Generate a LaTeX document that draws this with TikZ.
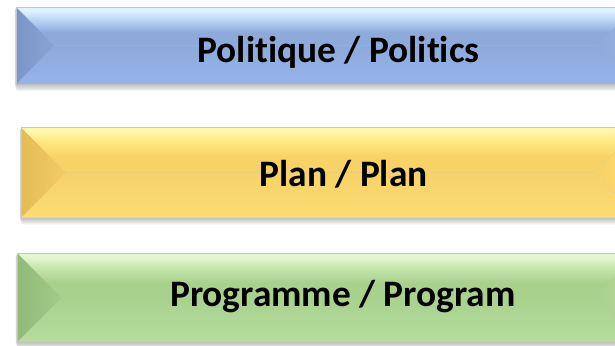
\documentclass[tikz,border=0pt]{standalone}
\usepackage{fontspec}
\setmainfont{Carlito}[Ligatures={NoCommon}]
\definecolor{bmain}{RGB}{142,170,219}
\definecolor{blight}{RGB}{190,216,248}
\definecolor{bwhite}{RGB}{222,243,255}
\definecolor{brim}{RGB}{188,198,214}
\definecolor{bdark}{RGB}{122,150,198}
\definecolor{bldark}{RGB}{137,165,214}
\definecolor{brlight}{RGB}{152,180,228}
\definecolor{bbot}{RGB}{150,180,232}
\definecolor{ymain}{RGB}{247,210,102}
\definecolor{ylight}{RGB}{255,232,130}
\definecolor{ywhite}{RGB}{255,246,172}
\definecolor{yrim}{RGB}{214,200,150}
\definecolor{ydark}{RGB}{228,188,86}
\definecolor{yldark}{RGB}{242,204,98}
\definecolor{yrlight}{RGB}{252,218,112}
\definecolor{ybot}{RGB}{252,220,116}
\definecolor{gmain}{RGB}{169,209,142}
\definecolor{glight}{RGB}{200,232,176}
\definecolor{gwhite}{RGB}{226,247,206}
\definecolor{grim}{RGB}{188,204,178}
\definecolor{gdark}{RGB}{145,185,120}
\definecolor{gldark}{RGB}{162,202,136}
\definecolor{grlight}{RGB}{178,216,152}
\definecolor{gbot}{RGB}{180,220,156}
\pgfdeclareverticalshading{btop}{100bp}{color(0bp)=(bmain); color(25bp)=(bmain); color(42bp)=(bmain); color(60bp)=(blight); color(70bp)=(bwhite); color(75bp)=(bwhite); color(100bp)=(bwhite)}
\pgfdeclareverticalshading{ytop}{100bp}{color(0bp)=(ymain); color(25bp)=(ymain); color(42bp)=(ymain); color(60bp)=(ylight); color(70bp)=(ywhite); color(75bp)=(ywhite); color(100bp)=(ywhite)}
\pgfdeclareverticalshading{gtop}{100bp}{color(0bp)=(gmain); color(25bp)=(gmain); color(42bp)=(gmain); color(60bp)=(glight); color(70bp)=(gwhite); color(75bp)=(gwhite); color(100bp)=(gwhite)}
\newcommand\bevelbox[5]{%
  \pgfmathsetmacro\bbM{(#2+#4)/2}%
  \pgfmathsetmacro\bbH{(#4-#2)/2}%
  \foreach \k in {1,...,6}{\fill[black,opacity=0.045,rounded corners=2bp] (#1-1.8+\k*0.3,#2+1) rectangle (#3+1,#4+\k*1.2);}
  \shade[shading=#5top] (#1,#2) -- (#3,#2) -- (#3-\bbH,\bbM) -- (#1+\bbH,\bbM) -- cycle;
  \shade[top color=#5main, bottom color=#5bot] (#1,#4) -- (#3,#4) -- (#3-\bbH,\bbM) -- (#1+\bbH,\bbM) -- cycle;
  \shade[left color=#5dark, right color=#5ldark] (#1,#2) -- (#1+\bbH,\bbM) -- (#1,#4) -- cycle;
  \shade[left color=#5main, right color=#5rlight] (#3,#2) -- (#3-\bbH,\bbM) -- (#3,#4) -- cycle;
  \draw[#5rim, line width=0.8bp] (#1,#4) -- (#1,#2) -- (#3,#2);
}
\tikzset{lbl/.style={font=\bfseries\fontsize{37.5}{42}\selectfont, text=black, inner sep=0pt, anchor=base}}
\begin{document}
\begin{tikzpicture}[x=1bp,y=-1bp]
\useasboundingbox (0,0) rectangle (615,345);
\clip (0,0) rectangle (615,345);
\fill[white] (0,0) rectangle (615,345);
\bevelbox{16}{7}{635.5}{84}{b}
\bevelbox{21}{127.5}{639.5}{217.5}{y}
\bevelbox{17}{253}{639.5}{342}{g}
\node[lbl] (t1) at (338.5,62.3) {Politique / Politics};
\node[lbl] (t2) at (343.5,186) {Plan / Plan};
\node[lbl] (t3) at (343,306.7) {Programme / Program};
\end{tikzpicture}
\end{document}
